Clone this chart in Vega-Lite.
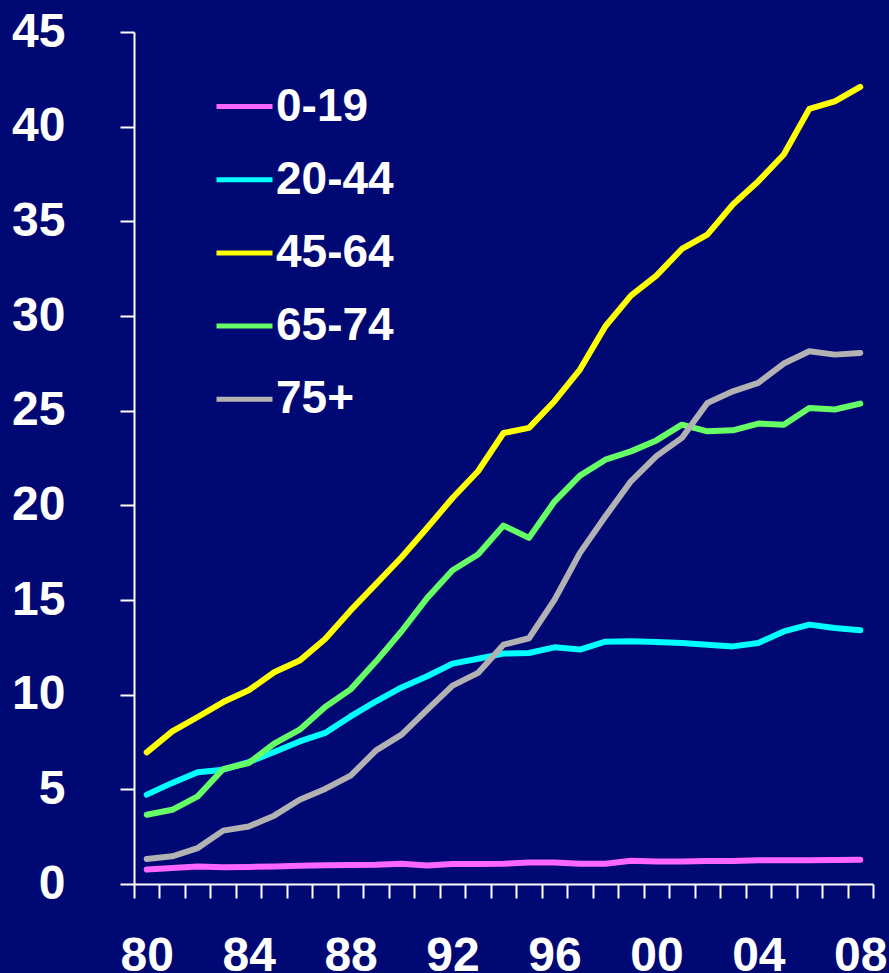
{
  "$schema": "https://vega.github.io/schema/vega-lite/v6.json",
  "width": 739,
  "height": 852,
  "autosize": {"type": "none"},
  "padding": {"left": 134, "top": 32, "right": 16, "bottom": 89},
  "background": "#000874",
  "config": {"view": {"stroke": null}},
  "data": {"values": [
    {"year":1980,"group":"0-19","value":0.76},{"year":1981,"group":"0-19","value":0.85},{"year":1982,"group":"0-19","value":0.93},{"year":1983,"group":"0-19","value":0.88},{"year":1984,"group":"0-19","value":0.9},{"year":1985,"group":"0-19","value":0.93},{"year":1986,"group":"0-19","value":0.97},{"year":1987,"group":"0-19","value":0.99},{"year":1988,"group":"0-19","value":1.0},{"year":1989,"group":"0-19","value":1.02},{"year":1990,"group":"0-19","value":1.07},{"year":1991,"group":"0-19","value":0.98},{"year":1992,"group":"0-19","value":1.06},{"year":1993,"group":"0-19","value":1.06},{"year":1994,"group":"0-19","value":1.07},{"year":1995,"group":"0-19","value":1.14},{"year":1996,"group":"0-19","value":1.14},{"year":1997,"group":"0-19","value":1.07},{"year":1998,"group":"0-19","value":1.07},{"year":1999,"group":"0-19","value":1.23},{"year":2000,"group":"0-19","value":1.19},{"year":2001,"group":"0-19","value":1.19},{"year":2002,"group":"0-19","value":1.21},{"year":2003,"group":"0-19","value":1.21},{"year":2004,"group":"0-19","value":1.25},{"year":2005,"group":"0-19","value":1.25},{"year":2006,"group":"0-19","value":1.25},{"year":2007,"group":"0-19","value":1.27},{"year":2008,"group":"0-19","value":1.28},
    {"year":1980,"group":"20-44","value":4.72},{"year":1981,"group":"20-44","value":5.34},{"year":1982,"group":"20-44","value":5.9},{"year":1983,"group":"20-44","value":6.04},{"year":1984,"group":"20-44","value":6.44},{"year":1985,"group":"20-44","value":6.97},{"year":1986,"group":"20-44","value":7.53},{"year":1987,"group":"20-44","value":7.98},{"year":1988,"group":"20-44","value":8.85},{"year":1989,"group":"20-44","value":9.65},{"year":1990,"group":"20-44","value":10.38},{"year":1991,"group":"20-44","value":10.97},{"year":1992,"group":"20-44","value":11.64},{"year":1993,"group":"20-44","value":11.9},{"year":1994,"group":"20-44","value":12.17},{"year":1995,"group":"20-44","value":12.2},{"year":1996,"group":"20-44","value":12.5},{"year":1997,"group":"20-44","value":12.38},{"year":1998,"group":"20-44","value":12.8},{"year":1999,"group":"20-44","value":12.82},{"year":2000,"group":"20-44","value":12.78},{"year":2001,"group":"20-44","value":12.73},{"year":2002,"group":"20-44","value":12.64},{"year":2003,"group":"20-44","value":12.55},{"year":2004,"group":"20-44","value":12.73},{"year":2005,"group":"20-44","value":13.34},{"year":2006,"group":"20-44","value":13.7},{"year":2007,"group":"20-44","value":13.52},{"year":2008,"group":"20-44","value":13.4},
    {"year":1980,"group":"45-64","value":6.95},{"year":1981,"group":"45-64","value":8.06},{"year":1982,"group":"45-64","value":8.82},{"year":1983,"group":"45-64","value":9.61},{"year":1984,"group":"45-64","value":10.23},{"year":1985,"group":"45-64","value":11.18},{"year":1986,"group":"45-64","value":11.8},{"year":1987,"group":"45-64","value":12.94},{"year":1988,"group":"45-64","value":14.45},{"year":1989,"group":"45-64","value":15.85},{"year":1990,"group":"45-64","value":17.26},{"year":1991,"group":"45-64","value":18.8},{"year":1992,"group":"45-64","value":20.39},{"year":1993,"group":"45-64","value":21.8},{"year":1994,"group":"45-64","value":23.82},{"year":1995,"group":"45-64","value":24.09},{"year":1996,"group":"45-64","value":25.5},{"year":1997,"group":"45-64","value":27.17},{"year":1998,"group":"45-64","value":29.46},{"year":1999,"group":"45-64","value":31.08},{"year":2000,"group":"45-64","value":32.13},{"year":2001,"group":"45-64","value":33.54},{"year":2002,"group":"45-64","value":34.3},{"year":2003,"group":"45-64","value":35.89},{"year":2004,"group":"45-64","value":37.12},{"year":2005,"group":"45-64","value":38.53},{"year":2006,"group":"45-64","value":40.94},{"year":2007,"group":"45-64","value":41.34},{"year":2008,"group":"45-64","value":42.1},
    {"year":1980,"group":"65-74","value":3.66},{"year":1981,"group":"65-74","value":3.92},{"year":1982,"group":"65-74","value":4.63},{"year":1983,"group":"65-74","value":6.07},{"year":1984,"group":"65-74","value":6.39},{"year":1985,"group":"65-74","value":7.41},{"year":1986,"group":"65-74","value":8.15},{"year":1987,"group":"65-74","value":9.35},{"year":1988,"group":"65-74","value":10.28},{"year":1989,"group":"65-74","value":11.76},{"year":1990,"group":"65-74","value":13.35},{"year":1991,"group":"65-74","value":15.1},{"year":1992,"group":"65-74","value":16.57},{"year":1993,"group":"65-74","value":17.4},{"year":1994,"group":"65-74","value":18.93},{"year":1995,"group":"65-74","value":18.28},{"year":1996,"group":"65-74","value":20.2},{"year":1997,"group":"65-74","value":21.57},{"year":1998,"group":"65-74","value":22.41},{"year":1999,"group":"65-74","value":22.85},{"year":2000,"group":"65-74","value":23.43},{"year":2001,"group":"65-74","value":24.26},{"year":2002,"group":"65-74","value":23.91},{"year":2003,"group":"65-74","value":23.96},{"year":2004,"group":"65-74","value":24.32},{"year":2005,"group":"65-74","value":24.26},{"year":2006,"group":"65-74","value":25.14},{"year":2007,"group":"65-74","value":25.06},{"year":2008,"group":"65-74","value":25.37},
    {"year":1980,"group":"75+","value":1.32},{"year":1981,"group":"75+","value":1.46},{"year":1982,"group":"75+","value":1.9},{"year":1983,"group":"75+","value":2.82},{"year":1984,"group":"75+","value":3.04},{"year":1985,"group":"75+","value":3.61},{"year":1986,"group":"75+","value":4.45},{"year":1987,"group":"75+","value":5.02},{"year":1988,"group":"75+","value":5.72},{"year":1989,"group":"75+","value":7.06},{"year":1990,"group":"75+","value":7.89},{"year":1991,"group":"75+","value":9.2},{"year":1992,"group":"75+","value":10.48},{"year":1993,"group":"75+","value":11.15},{"year":1994,"group":"75+","value":12.64},{"year":1995,"group":"75+","value":12.98},{"year":1996,"group":"75+","value":15.01},{"year":1997,"group":"75+","value":17.49},{"year":1998,"group":"75+","value":19.42},{"year":1999,"group":"75+","value":21.27},{"year":2000,"group":"75+","value":22.6},{"year":2001,"group":"75+","value":23.56},{"year":2002,"group":"75+","value":25.41},{"year":2003,"group":"75+","value":26.02},{"year":2004,"group":"75+","value":26.47},{"year":2005,"group":"75+","value":27.49},{"year":2006,"group":"75+","value":28.14},{"year":2007,"group":"75+","value":27.96},{"year":2008,"group":"75+","value":28.05}
  ]},
  "mark": {"type": "line", "strokeWidth": 6, "strokeCap": "round", "strokeJoin": "round"},
  "encoding": {
    "x": {
      "field": "year", "type": "quantitative",
      "scale": {"domain": [1979.5, 2008.5], "nice": false, "zero": false},
      "axis": {
        "title": null,
        "values": [1979.5,1980.5,1981.5,1982.5,1983.5,1984.5,1985.5,1986.5,1987.5,1988.5,1989.5,1990.5,1991.5,1992.5,1993.5,1994.5,1995.5,1996.5,1997.5,1998.5,1999.5,2000.5,2001.5,2002.5,2003.5,2004.5,2005.5,2006.5,2007.5,2008.5],
        "labelExpr": "(datum.value + 0.5) % 4 == 0 ? substring(toString(datum.value + 0.5), 2, 4) : ''",
        "labelOffset": 12.74,
        "labelOverlap": false,
        "labelFlush": false,
        "labelBound": false,
        "labelFont": "Liberation Sans",
        "labelFontSize": 48,
        "labelFontWeight": "bold",
        "labelColor": "#ffffff",
        "labelPadding": 34,
        "tickSize": 14,
        "tickWidth": 2,
        "tickColor": "#ffffff",
        "domainColor": "#ffffff",
        "domainWidth": 2,
        "grid": false
      }
    },
    "y": {
      "field": "value", "type": "quantitative",
      "scale": {"domain": [0, 45], "nice": false},
      "axis": {
        "title": null,
        "values": [0,5,10,15,20,25,30,35,40,45],
        "labelFont": "Liberation Sans",
        "labelFontSize": 48,
        "labelFontWeight": "bold",
        "labelColor": "#ffffff",
        "labelPadding": 55,
        "labelOverlap": false,
        "labelBound": false,
        "labelFlush": false,
        "tickSize": 14,
        "tickWidth": 2,
        "tickColor": "#ffffff",
        "domainColor": "#ffffff",
        "domainWidth": 2,
        "grid": false
      }
    },
    "color": {
      "field": "group", "type": "nominal",
      "scale": {"domain": ["0-19","20-44","45-64","65-74","75+"], "range": ["#FF66FF","#00FFFF","#FFFF00","#66FF66","#B2B2B2"]},
      "legend": {
        "title": null,
        "orient": "none",
        "legendX": 80,
        "legendY": 44,
        "padding": 0,
        "symbolType": "stroke",
        "symbolSize": 3136,
        "symbolStrokeWidth": 5,
        "labelFont": "Liberation Sans",
        "labelFontSize": 46,
        "labelFontWeight": "bold",
        "labelColor": "#ffffff",
        "labelOffset": 1,
        "rowPadding": 19.2,
        "labelLimit": 400
      }
    }
  }
}
